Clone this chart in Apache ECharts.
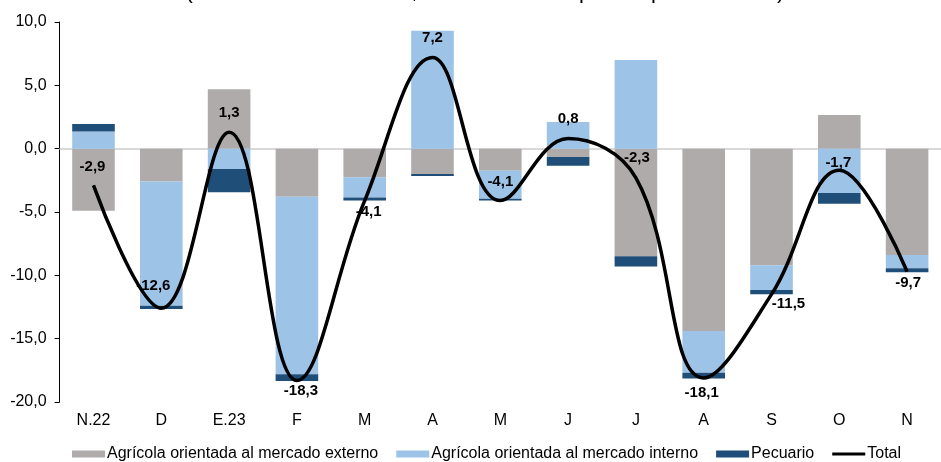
<!DOCTYPE html>
<html>
<head>
<meta charset="utf-8">
<script src="https://cdn.jsdelivr.net/npm/echarts@6/dist/echarts.min.js"></script>
<style>
html,body{margin:0;padding:0;background:#fff;}
#chart{width:941px;height:462px;}
</style>
</head>
<body>
<div id="chart"></div>
<script>
var categories = ['N.22','D','E.23','F','M','A','M','J','J','A','S','O','N'];
var externo  = [-4.9, -2.6, 4.7, -3.8, -2.25, -2.0, -1.75, -0.65, -8.5, -14.4, -9.2, 2.65, -8.4];
var interno  = [1.35, -9.8, -1.6, -14.0, -1.6, 9.3, -2.2, 2.1, 7.0, -3.3, -1.95, -3.5, -1.05];
var pecuario = [0.6, -0.25, -1.85, -0.55, -0.25, -0.15, -0.15, -0.7, -0.8, -0.45, -0.35, -0.85, -0.3];
var total    = [-2.9, -12.6, 1.3, -18.3, -4.1, 7.2, -4.1, 0.8, -2.3, -18.1, -11.5, -1.7, -9.7];
var yTicks = {min: -20, max: 10, interval: 5};

var labelOffsets = [[-1,-19],[-8,-22],[0,-19.5],[4,10],[4,11],[0,-19.5],[0,-19],[0,-19.5],[1,-20],[-2,15],[17,10],[-1,-7.5],[1,11]];

function fmt(v){ return v.toFixed(1).replace('.', ','); }

var font = 'Arial, "Liberation Sans", sans-serif';
var chart = echarts.init(document.getElementById('chart'));

var totalData = total.map(function(v, i){
  return {
    value: v,
    label: {show: true, position: 'inside', offset: labelOffsets[i]}
  };
});

var option = {
  animation: false,
  backgroundColor: '#ffffff',
  textStyle: {fontFamily: font},
  graphic: [{
    type: 'text',
    x: 485, y: 3,
    style: {
      text: '(Variación % interanual, contribución en puntos porcentuales)',
      font: '22px ' + font,
      fill: '#000',
      align: 'center',
      verticalAlign: 'bottom'
    }
  }],
  grid: {left: 59.6, top: 22, width: 893.75, height: 380, containLabel: false},
  legend: {
    left: 67, top: 441,
    itemWidth: 33, itemHeight: 7, itemGap: 18,
    textStyle: {fontSize: 16, color: '#000', fontFamily: font, padding: [0,0,0,-3]},
    data: [
      {name: 'Agrícola orientada al mercado externo', icon: 'rect'},
      {name: 'Agrícola orientada al mercado interno', icon: 'rect'},
      {name: 'Pecuario', icon: 'rect'},
      {name: 'Total', icon: 'path://M0,0H11V1H0Z'}
    ]
  },
  xAxis: {
    type: 'category',
    data: categories,
    axisLine: {show: false},
    axisTick: {show: false},
    axisLabel: {fontSize: 16, color: '#000', margin: 11, fontFamily: font, interval: 0}
  },
  yAxis: {
    type: 'value',
    min: yTicks.min, max: yTicks.max, interval: yTicks.interval,
    axisLine: {show: true, lineStyle: {color: '#000', width: 1}},
    axisTick: {show: true, inside: false, length: 5, lineStyle: {color: '#000'}},
    splitLine: {show: false},
    axisLabel: {fontSize: 16, color: '#000', margin: 13, fontFamily: font, formatter: fmt}
  },
  series: [
    {
      name: 'Agrícola orientada al mercado externo',
      type: 'bar', stack: 'a', barWidth: 42.6,
      itemStyle: {color: '#AFABAB'},
      data: externo,
      markLine: {
        silent: true, symbol: 'none', z: 1,
        label: {show: false},
        lineStyle: {color: '#D9D9D9', width: 2, type: 'solid'},
        data: [{yAxis: 0}]
      }
    },
    {
      name: 'Agrícola orientada al mercado interno',
      type: 'bar', stack: 'a', barWidth: 42.6,
      itemStyle: {color: '#9DC3E6'},
      data: interno
    },
    {
      name: 'Pecuario',
      type: 'bar', stack: 'a', barWidth: 42.6,
      itemStyle: {color: '#1F4E79'},
      data: pecuario
    },
    {
      name: 'Total',
      type: 'line',
      smooth: 0.4,
      symbol: 'circle', symbolSize: 1,
      itemStyle: {color: '#000'},
      lineStyle: {color: '#000', width: 3.5},
      z: 5,
      label: {
        show: true, position: 'inside',
        fontSize: 15, fontWeight: 'bold', color: '#000', fontFamily: font,
        formatter: function(p){ return fmt(p.value); }
      },
      data: totalData
    }
  ]
};
chart.setOption(option);
</script>
</body>
</html>
